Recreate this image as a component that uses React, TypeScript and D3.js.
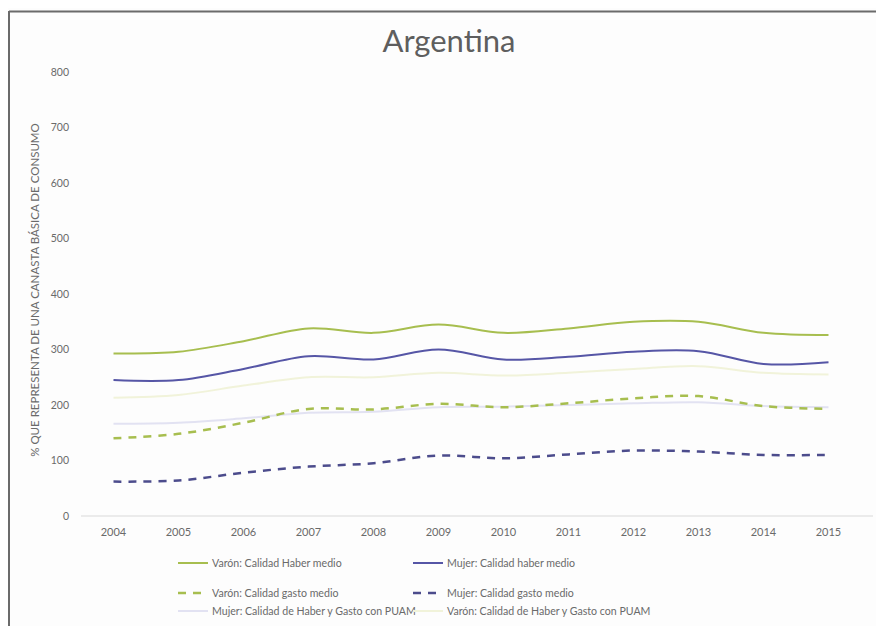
import React from "react";
import * as d3 from "d3";

const years = ["2004", "2005", "2006", "2007", "2008", "2009", "2010", "2011", "2012", "2013", "2014", "2015"];
const yTicks = [0, 100, 200, 300, 400, 500, 600, 700, 800];

const varonHaber = [293, 296, 315, 338, 330, 345, 330, 338, 350, 350, 330, 326];
const mujerHaber = [245, 245, 265, 288, 282, 300, 282, 287, 296, 297, 274, 277];
const varonGasto = [140, 148, 168, 193, 192, 202, 196, 203, 212, 216, 198, 193];
const mujerGasto = [62, 64, 78, 89, 95, 109, 104, 111, 118, 116, 110, 110];
const mujerPuam = [166, 168, 176, 186, 188, 196, 197, 200, 203, 205, 198, 196];
const varonPuam = [213, 218, 235, 250, 250, 258, 253, 258, 265, 270, 258, 255];

const seriesNames = [
  "Varón: Calidad Haber medio",
  "Mujer: Calidad haber medio",
  "Varón: Calidad gasto medio",
  "Mujer: Calidad gasto medio",
  "Mujer: Calidad de Haber y Gasto con PUAM",
  "Varón: Calidad de Haber y Gasto con PUAM",
];

const GREEN = "#a7be4f";
const BLUE = "#5656a6";
const BLUE_DASH = "#4c4c8c";
const LAVENDER = "#e2e2f2";
const PALE_GREEN = "#f1f3da";
const TEXT = "#6a6a6a";
const FONT = "Lato, 'Open Sans', sans-serif";

export default function App() {
  const width = 876;
  const height = 618;
  // offsets relative to svg origin (page is shifted by the 8px body margin)
  const x = d3.scaleBand<string>().domain(years).range([73, 853]);
  const y = d3.scaleLinear().domain([0, 800]).range([508, 64]);
  const cx = (i: number) => (x(years[i]) as number) + x.bandwidth() / 2;

  const line = d3
    .line<number>()
    .x((_, i) => cx(i))
    .y((d) => y(d))
    .curve(d3.curveCatmullRom.alpha(0.5));

  const series = [
    { name: seriesNames[5], data: varonPuam, color: PALE_GREEN, dash: undefined, w: 2 },
    { name: seriesNames[4], data: mujerPuam, color: LAVENDER, dash: undefined, w: 2 },
    { name: seriesNames[3], data: mujerGasto, color: BLUE_DASH, dash: "8 7", w: 2.5 },
    { name: seriesNames[2], data: varonGasto, color: GREEN, dash: "8 7", w: 2.5 },
    { name: seriesNames[1], data: mujerHaber, color: BLUE, dash: undefined, w: 2 },
    { name: seriesNames[0], data: varonHaber, color: GREEN, dash: undefined, w: 2 },
  ];

  const legend = [
    { name: seriesNames[0], color: GREEN, dash: undefined, lx: 170, ly: 555 },
    { name: seriesNames[1], color: BLUE, dash: undefined, lx: 405, ly: 555 },
    { name: seriesNames[2], color: GREEN, dash: "8 7", lx: 170, ly: 585 },
    { name: seriesNames[3], color: BLUE_DASH, dash: "8 7", lx: 405, ly: 585 },
    { name: seriesNames[4], color: LAVENDER, dash: undefined, lx: 170, ly: 603 },
    { name: seriesNames[5], color: PALE_GREEN, dash: undefined, lx: 405, ly: 603 },
  ];

  return (
    <svg width={width} height={height} style={{ display: "block" }} fontFamily={FONT}>
      <rect x={0} y={0} width={width} height={height} fill="#fdfdfd" />
      <line x1={1} x2={width} y1={3.5} y2={3.5} stroke="#6b6b6b" strokeWidth={2} />
      <line x1={1} x2={1} y1={3} y2={height} stroke="#6b6b6b" strokeWidth={2} />

      <text x={441} y={44} textAnchor="middle" fontSize={31} fill="#5e5e5e">
        Argentina
      </text>

      <text
        transform={`translate(31,282) rotate(-90)`}
        textAnchor="middle"
        fontSize={11.5}
        fill={TEXT}
      >
        % QUE REPRESENTA DE UNA CANASTA BÁSICA DE CONSUMO
      </text>

      {yTicks.map((t) => (
        <text key={t} x={61} y={y(t)} dy="0.35em" textAnchor="end" fontSize={10.5} fill={TEXT}>
          {t}
        </text>
      ))}

      <line x1={73} x2={865} y1={y(0)} y2={y(0)} stroke="#d9d9d9" strokeWidth={1} />

      {years.map((yr, i) => (
        <text key={yr} x={cx(i)} y={528} textAnchor="middle" fontSize={11} fill={TEXT}>
          {yr}
        </text>
      ))}

      {series.map((s) => (
        <path
          key={s.name}
          d={line(s.data) ?? ""}
          fill="none"
          stroke={s.color}
          strokeWidth={s.w}
          strokeDasharray={s.dash}
        />
      ))}

      {legend.map((l) => (
        <g key={l.name}>
          <line
            x1={l.lx}
            x2={l.lx + 30}
            y1={l.ly}
            y2={l.ly}
            stroke={l.color}
            strokeWidth={l.dash ? 2.5 : 2}
            strokeDasharray={l.dash}
          />
          <text x={l.lx + 34} y={l.ly} dy="0.35em" fontSize={10.6} fill={TEXT}>
            {l.name}
          </text>
        </g>
      ))}
    </svg>
  );
}
